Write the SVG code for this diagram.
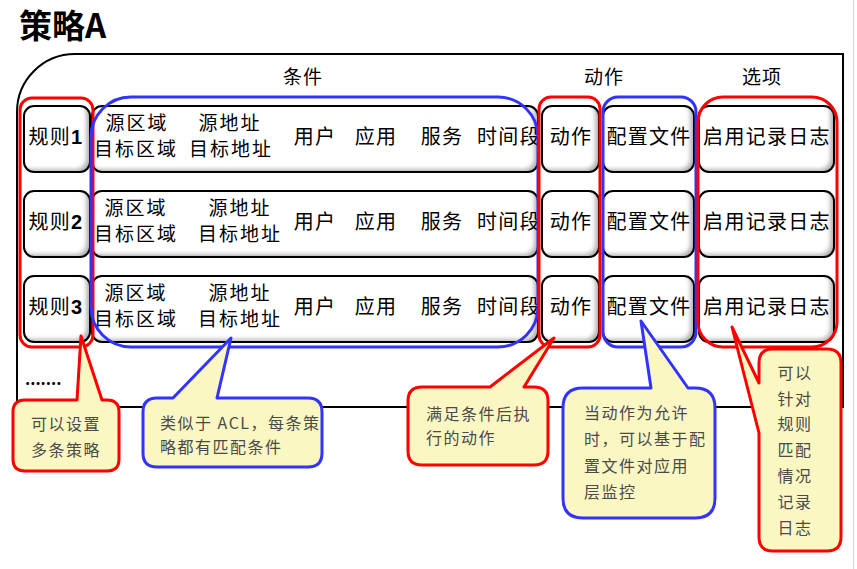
<svg xmlns="http://www.w3.org/2000/svg" width="857" height="569" viewBox="0 0 857 569">
<style>
  text { font-family: "Noto Sans CJK SC", "Noto Sans", sans-serif; fill: #000; }
  .title { font-size: 33px; font-weight: bold; }
  .hdr { font-size: 19px; text-anchor: middle; letter-spacing: 1px; }
  .lbl { font-size: 20px; text-anchor: middle; letter-spacing: 1.3px; }
  .lbl2 { font-size: 19px; text-anchor: middle; letter-spacing: 2px; }
  .num { font-family: "Liberation Sans", "DejaVu Sans", sans-serif; font-weight: bold; }
  .cellf { fill: #fff; }
  .cellb { fill: none; stroke: #000; stroke-width: 2; }
  .hr { fill: none; stroke: #ff0000; stroke-width: 3; }
  .hb { fill: none; stroke: #3333ff; stroke-width: 3; }
  .cr { fill: #faf7c2; stroke: #ff0000; stroke-width: 3; stroke-linejoin: round; }
  .cb { fill: #faf7c2; stroke: #3333ff; stroke-width: 3; stroke-linejoin: round; }
  .ct { font-size: 16px; fill: #4a4a4a; letter-spacing: 1.5px; }
  .ctm { font-size: 16px; fill: #4a4a4a; letter-spacing: 1.5px; text-anchor: middle; }
</style>
<defs>
  <filter id="inner" x="-5%" y="-5%" width="110%" height="110%">
    <feOffset in="SourceAlpha" dx="-4" dy="-3" result="off"/>
    <feGaussianBlur in="off" stdDeviation="2" result="blur"/>
    <feComposite in="SourceAlpha" in2="blur" operator="out" result="edge"/>
    <feFlood flood-color="#777" flood-opacity="0.7"/>
    <feComposite in2="edge" operator="in" result="shadow"/>
    <feMerge><feMergeNode in="SourceGraphic"/><feMergeNode in="shadow"/></feMerge>
  </filter>
</defs>

<rect x="0" y="0" width="857" height="569" fill="#fff"/>
<line x1="853.5" y1="0" x2="853.5" y2="569" stroke="#d4d4d4" stroke-width="1"/>

<text class="title" x="19" y="38">策略A</text>

<g id="frame">
  <path d="M 75,54 L 843,54 L 843,407 L 17,407 L 17,112 A 58 58 0 0 1 75,54 Z" fill="#fff" stroke="#000" stroke-width="2"/>
  <text class="hdr" x="303" y="84">条件</text>
  <text class="hdr" x="604" y="84">动作</text>
  <text class="hdr" x="762" y="84">选项</text>
  <text x="25" y="385" font-family="Liberation Sans, sans-serif" font-weight="bold" font-size="16">.......</text>
</g>

<!-- Row 1 -->
<g id="row1">
  <g id="rule1">
    <rect class="cellf" filter="url(#inner)" x="24" y="106" width="66" height="66" rx="10"/>
    <rect class="cellb" x="24" y="106" width="66" height="66" rx="10"/>
    <text class="lbl" x="56" y="144" letter-spacing="0">规则<tspan class="num">1</tspan></text>
  </g>
  <g id="cond1">
    <rect class="cellf" filter="url(#inner)" x="92" y="106" width="446" height="66" rx="10"/>
    <rect class="cellb" x="92" y="106" width="446" height="66" rx="10"/>
    <text class="lbl2" x="137" y="130">源区域</text>
    <text class="lbl2" x="136" y="156">目标区域</text>
    <text class="lbl2" x="230" y="130">源地址</text>
    <text class="lbl2" x="231" y="156">目标地址</text>
    <text class="lbl" x="315" y="144">用户</text>
    <text class="lbl" x="376" y="144">应用</text>
    <text class="lbl" x="442" y="144">服务</text>
    <text class="lbl" x="509" y="144">时间段</text>
  </g>
  <g id="act1">
    <rect class="cellf" filter="url(#inner)" x="542" y="106" width="57" height="66" rx="10"/>
    <rect class="cellb" x="542" y="106" width="57" height="66" rx="10"/>
    <text class="lbl" x="571" y="144">动作</text>
  </g>
  <g id="cfg1">
    <rect class="cellf" filter="url(#inner)" x="603" y="106" width="91" height="66" rx="10"/>
    <rect class="cellb" x="603" y="106" width="91" height="66" rx="10"/>
    <text class="lbl" x="649" y="144">配置文件</text>
  </g>
  <g id="opt1">
    <rect class="cellf" filter="url(#inner)" x="699" y="106" width="135" height="66" rx="10"/>
    <rect class="cellb" x="699" y="106" width="135" height="66" rx="10"/>
    <text class="lbl" x="767" y="144">启用记录日志</text>
  </g>
</g>

<!-- Row 2 -->
<g id="row2">
  <g id="rule2">
    <rect class="cellf" filter="url(#inner)" x="24" y="191" width="66" height="66" rx="10"/>
    <rect class="cellb" x="24" y="191" width="66" height="66" rx="10"/>
    <text class="lbl" x="56" y="229" letter-spacing="0">规则<tspan class="num">2</tspan></text>
  </g>
  <g id="cond2">
    <rect class="cellf" filter="url(#inner)" x="92" y="191" width="446" height="66" rx="10"/>
    <rect class="cellb" x="92" y="191" width="446" height="66" rx="10"/>
    <text class="lbl2" x="136" y="215">源区域</text>
    <text class="lbl2" x="136" y="241">目标区域</text>
    <text class="lbl2" x="240" y="215">源地址</text>
    <text class="lbl2" x="240" y="241">目标地址</text>
    <text class="lbl" x="315" y="229">用户</text>
    <text class="lbl" x="376" y="229">应用</text>
    <text class="lbl" x="442" y="229">服务</text>
    <text class="lbl" x="509" y="229">时间段</text>
  </g>
  <g id="act2">
    <rect class="cellf" filter="url(#inner)" x="542" y="191" width="57" height="66" rx="10"/>
    <rect class="cellb" x="542" y="191" width="57" height="66" rx="10"/>
    <text class="lbl" x="571" y="229">动作</text>
  </g>
  <g id="cfg2">
    <rect class="cellf" filter="url(#inner)" x="603" y="191" width="91" height="66" rx="10"/>
    <rect class="cellb" x="603" y="191" width="91" height="66" rx="10"/>
    <text class="lbl" x="649" y="229">配置文件</text>
  </g>
  <g id="opt2">
    <rect class="cellf" filter="url(#inner)" x="699" y="191" width="135" height="66" rx="10"/>
    <rect class="cellb" x="699" y="191" width="135" height="66" rx="10"/>
    <text class="lbl" x="767" y="229">启用记录日志</text>
  </g>
</g>

<!-- Row 3 -->
<g id="row3">
  <g id="rule3">
    <rect class="cellf" filter="url(#inner)" x="24" y="276" width="66" height="66" rx="10"/>
    <rect class="cellb" x="24" y="276" width="66" height="66" rx="10"/>
    <text class="lbl" x="56" y="314" letter-spacing="0">规则<tspan class="num">3</tspan></text>
  </g>
  <g id="cond3">
    <rect class="cellf" filter="url(#inner)" x="92" y="276" width="446" height="66" rx="10"/>
    <rect class="cellb" x="92" y="276" width="446" height="66" rx="10"/>
    <text class="lbl2" x="136" y="300">源区域</text>
    <text class="lbl2" x="136" y="326">目标区域</text>
    <text class="lbl2" x="240" y="300">源地址</text>
    <text class="lbl2" x="240" y="326">目标地址</text>
    <text class="lbl" x="315" y="314">用户</text>
    <text class="lbl" x="376" y="314">应用</text>
    <text class="lbl" x="442" y="314">服务</text>
    <text class="lbl" x="509" y="314">时间段</text>
  </g>
  <g id="act3">
    <rect class="cellf" filter="url(#inner)" x="542" y="276" width="57" height="66" rx="10"/>
    <rect class="cellb" x="542" y="276" width="57" height="66" rx="10"/>
    <text class="lbl" x="571" y="314">动作</text>
  </g>
  <g id="cfg3">
    <rect class="cellf" filter="url(#inner)" x="603" y="276" width="91" height="66" rx="10"/>
    <rect class="cellb" x="603" y="276" width="91" height="66" rx="10"/>
    <text class="lbl" x="649" y="314">配置文件</text>
  </g>
  <g id="opt3">
    <rect class="cellf" filter="url(#inner)" x="699" y="276" width="135" height="66" rx="10"/>
    <rect class="cellb" x="699" y="276" width="135" height="66" rx="10"/>
    <text class="lbl" x="767" y="314">启用记录日志</text>
  </g>
</g>

<!-- Highlight outlines -->
<g id="highlights">
  <rect id="hl-rules" class="hr" x="20" y="98" width="73" height="249" rx="12"/>
  <rect id="hl-cond" class="hb" x="91" y="97" width="447" height="250" rx="40"/>
  <rect id="hl-action" class="hr" x="539" y="97" width="61" height="250" rx="12"/>
  <rect id="hl-config" class="hb" x="603" y="97" width="93" height="250" rx="15"/>
  <rect id="hl-options" class="hr" x="698" y="97" width="139" height="250" rx="25"/>
</g>

<!-- Callouts -->
<g id="callout-rules">
  <path class="cr" d="M 25,400 L 77,400 L 81,336 L 102,400 L 107,400 Q 119,400 119,412 L 119,459 Q 119,471 107,471 L 25,471 Q 13,471 13,459 L 13,412 Q 13,400 25,400 Z"/>
  <text class="ct" x="31" y="430">可以设置</text>
  <text class="ct" x="31" y="456">多条策略</text>
</g>
<g id="callout-cond">
  <path class="cb" d="M 157,398 L 173,398 L 231,338 L 217,398 L 308,398 Q 322,398 322,412 L 322,453 Q 322,467 308,467 L 157,467 Q 143,467 143,453 L 143,412 Q 143,398 157,398 Z"/>
  <text class="ct" x="160" y="429" letter-spacing="0.3">类似于 ACL，每条策</text>
  <text class="ct" x="160" y="453">略都有匹配条件</text>
</g>
<g id="callout-action">
  <path class="cr" d="M 422,387 L 490,387 L 554,338 L 524,387 L 534,387 Q 548,387 548,401 L 548,451 Q 548,465 534,465 L 422,465 Q 408,465 408,451 L 408,401 Q 408,387 422,387 Z"/>
  <text class="ct" x="426" y="420">满足条件后执</text>
  <text class="ct" x="426" y="444">行的动作</text>
</g>
<g id="callout-config">
  <path class="cb" d="M 583,388 L 651,388 L 641,321 L 688,388 L 695,388 Q 715,388 715,408 L 715,498 Q 715,518 695,518 L 583,518 Q 563,518 563,498 L 563,408 Q 563,388 583,388 Z"/>
  <text class="ct" x="584" y="419">当动作为允许</text>
  <text class="ct" x="584" y="445" letter-spacing="0.8">时，可以基于配</text>
  <text class="ct" x="584" y="472">置文件对应用</text>
  <text class="ct" x="584" y="498">层监控</text>
</g>
<g id="callout-options">
  <path class="cr" d="M 773,349 L 827,349 Q 841,349 841,363 L 841,537 Q 841,551 827,551 L 773,551 Q 759,551 759,537 L 759,433 L 732,327 L 759,383 L 759,363 Q 759,349 773,349 Z"/>
  <text class="ctm" x="795" y="379">可以</text>
  <text class="ctm" x="795" y="405">针对</text>
  <text class="ctm" x="795" y="430">规则</text>
  <text class="ctm" x="795" y="456">匹配</text>
  <text class="ctm" x="795" y="482">情况</text>
  <text class="ctm" x="795" y="508">记录</text>
  <text class="ctm" x="795" y="534">日志</text>
</g>
</svg>
